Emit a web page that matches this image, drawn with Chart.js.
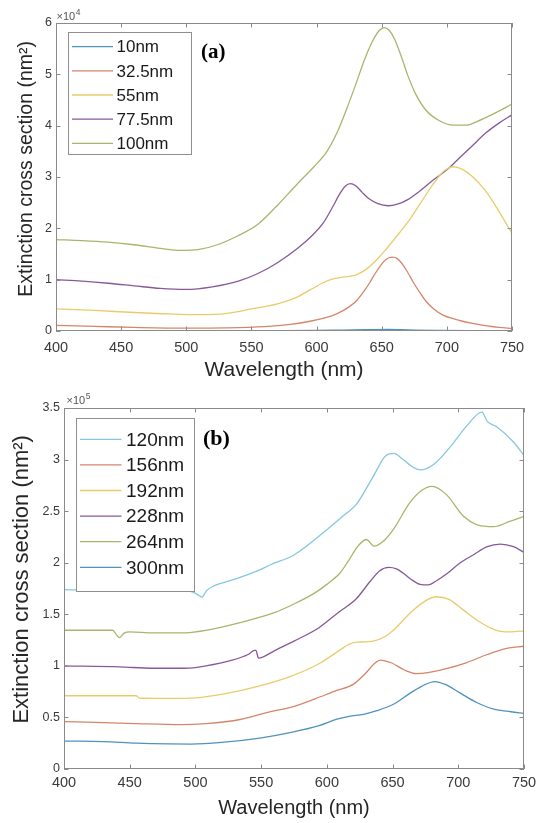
<!DOCTYPE html>
<html>
<head>
<meta charset="utf-8">
<script src="https://cdn.jsdelivr.net/npm/chart.js@4.4.1/dist/chart.umd.min.js"></script>
<style>
  html, body { margin: 0; padding: 0; background: #fff; }
  #wrap { position: relative; width: 537px; height: 823px; }
  canvas { position: absolute; left: 0; }
  #chartA { top: 0; }
  #chartB { top: 385px; }
</style>
</head>
<body>
<div id="wrap">
  <canvas id="chartA" width="537" height="395"></canvas>
  <canvas id="chartB" width="537" height="438"></canvas>
</div>
<script>
// ---- panel (a): extinction cross section, units of 1e4 nm^2 ----
const wlA10 = [400, 450, 500, 550, 600, 620, 640, 655, 670, 690, 720, 750];
const extA10 = [0.005, 0.004, 0.003, 0.004, 0.01, 0.018, 0.025, 0.03, 0.022, 0.012, 0.006, 0.004];

const wlA32 = [400, 430, 460, 500, 530, 560, 580, 595, 607, 615, 625, 631, 636, 641, 645, 649, 653, 658, 662, 666, 670, 674, 679, 684, 690, 697, 705, 712, 722, 731, 740, 750];
const extA32 = [0.11, 0.09, 0.07, 0.055, 0.06, 0.085, 0.13, 0.19, 0.26, 0.33, 0.47, 0.6, 0.76, 0.95, 1.12, 1.27, 1.39, 1.44, 1.41, 1.3, 1.14, 0.96, 0.76, 0.58, 0.43, 0.31, 0.24, 0.19, 0.14, 0.1, 0.07, 0.05];

const wlA55 = [400, 430, 460, 490, 510, 530, 550, 570, 585, 595, 605, 612, 620, 630, 638, 645, 652, 660, 670, 680, 690, 698, 705, 712, 720, 730, 740, 750];
const extA55 = [0.43, 0.4, 0.36, 0.33, 0.32, 0.34, 0.43, 0.53, 0.66, 0.8, 0.94, 1.01, 1.05, 1.09, 1.2, 1.36, 1.55, 1.8, 2.12, 2.5, 2.88, 3.12, 3.2, 3.15, 3.0, 2.72, 2.33, 1.9];

const wlA77 = [400, 420, 440, 460, 480, 500, 520, 540, 555, 570, 585, 597, 605, 612, 618, 622, 626, 630, 635, 640, 647, 655, 662, 670, 680, 690, 700, 710, 720, 730, 740, 750];
const extA77 = [1.0, 0.97, 0.93, 0.88, 0.83, 0.81, 0.86, 0.97, 1.12, 1.33, 1.6, 1.87, 2.1, 2.4, 2.68, 2.82, 2.87, 2.83, 2.7, 2.58, 2.48, 2.44, 2.47, 2.56, 2.74, 2.95, 3.14, 3.38, 3.62, 3.86, 4.05, 4.21];

const wlA100 = [400, 420, 440, 460, 480, 495, 510, 525, 540, 555, 570, 585, 598, 608, 616, 623, 630, 637, 643, 648, 652, 656, 660, 665, 670, 676, 684, 694, 705, 715, 723, 735, 750];
const extA100 = [1.78, 1.76, 1.73, 1.68, 1.61, 1.57, 1.59, 1.69, 1.86, 2.08, 2.45, 2.86, 3.2, 3.5, 3.88, 4.32, 4.8, 5.3, 5.65, 5.85, 5.91, 5.85, 5.68, 5.35, 4.98, 4.62, 4.3, 4.1, 4.01, 4.01, 4.08, 4.22, 4.42];

// ---- panel (b): extinction cross section, units of 1e5 nm^2 ----
const wlB120 = [400, 430, 455, 480, 497, 520, 549, 573, 594, 607, 617, 628, 638, 651, 664, 675, 682, 690, 701, 714, 727, 740, 750];
const extB120 = [0.271, 0.265, 0.25, 0.243, 0.242, 0.258, 0.3, 0.355, 0.42, 0.48, 0.51, 0.53, 0.565, 0.63, 0.74, 0.82, 0.848, 0.82, 0.74, 0.645, 0.58, 0.555, 0.54];

const wlB156 = [400, 430, 455, 489, 508, 534, 555, 573, 591, 607, 620, 630, 636, 641, 645, 649, 659, 668, 677, 690, 706, 722, 737, 750];
const extB156 = [0.46, 0.45, 0.44, 0.43, 0.44, 0.48, 0.55, 0.6, 0.68, 0.76, 0.82, 0.935, 1.02, 1.055, 1.045, 1.03, 0.96, 0.925, 0.935, 0.97, 1.03, 1.11, 1.17, 1.19];

const wlB192 = [400, 455, 457, 460, 481, 500, 521, 549, 573, 594, 609, 617, 623, 630, 638, 645, 651, 664, 675, 683, 693, 703, 717, 729, 740, 750];
const extB192 = [0.71, 0.71, 0.69, 0.686, 0.684, 0.69, 0.726, 0.806, 0.9, 1.02, 1.145, 1.21, 1.23, 1.232, 1.25, 1.29, 1.35, 1.52, 1.63, 1.67, 1.645, 1.55, 1.42, 1.345, 1.33, 1.34];

const wlB228 = [400, 442, 468, 492, 508, 528, 540, 545, 546, 548, 552, 560, 575, 594, 609, 622, 633, 640, 647, 653, 658, 664, 671, 677, 684, 692, 701, 712, 722, 732, 742, 750];
const extB228 = [1.0, 0.99, 0.977, 0.977, 1.0, 1.055, 1.11, 1.15, 1.15, 1.075, 1.09, 1.145, 1.24, 1.37, 1.52, 1.645, 1.82, 1.92, 1.955, 1.94, 1.9, 1.84, 1.79, 1.785, 1.83, 1.9, 1.995, 2.08, 2.155, 2.18, 2.155, 2.1];

const wlB264 = [400, 437, 440, 442, 446, 450, 468, 489, 508, 534, 560, 575, 590, 600, 610, 617, 623, 630, 636, 644, 651, 663, 672, 680, 691, 704, 714, 727, 739, 750];
const extB264 = [1.345, 1.345, 1.3, 1.274, 1.32, 1.33, 1.32, 1.32, 1.345, 1.42, 1.516, 1.6, 1.7, 1.79, 1.9, 2.03, 2.15, 2.225, 2.16, 2.22, 2.33, 2.58, 2.7, 2.74, 2.66, 2.45, 2.37, 2.35, 2.4, 2.45];

const wlB300 = [400, 450, 493, 499, 503, 505, 507, 509, 514, 530, 549, 557, 575, 600, 612, 623, 635, 645, 651, 658, 665, 671, 681, 694, 706, 718, 722, 729, 742, 750];
const extB300 = [1.74, 1.73, 1.73, 1.71, 1.68, 1.665, 1.7, 1.735, 1.775, 1.84, 1.93, 1.98, 2.075, 2.32, 2.45, 2.576, 2.83, 3.04, 3.06, 3.0, 2.93, 2.9, 2.95, 3.125, 3.32, 3.46, 3.37, 3.32, 3.17, 3.04];

const xTicks = [400, 450, 500, 550, 600, 650, 700, 750];

// washed-out matlab default colours
const colors = {
  blue: '#4f93bd',
  orange: '#d4866a',
  yellow: '#e9cb6c',
  purple: '#87599a',
  green: '#a9b56c',
  cyan: '#86c7df',
};

const sansFont = "'Liberation Sans', Arial, Helvetica, sans-serif";
const serifFont = "'Liberation Serif', 'Times New Roman', serif";

function pts(wl, ext) {
  return wl.map((w, i) => ({ x: w, y: ext[i] }));
}

function line(label, wl, ext, color) {
  return {
    label,
    data: pts(wl, ext),
    borderColor: color,
    backgroundColor: color,
    borderWidth: 1.3,
    pointRadius: 0,
    cubicInterpolationMode: 'monotone',
    fill: false,
  };
}

// box, inward ticks, in-axes legend and labels, matlab style
const matlabFrame = {
  id: 'matlabFrame',
  afterDatasetsDraw(chart, args, o) {
    const { ctx, chartArea: a, scales: { x, y } } = chart;
    ctx.save();

    // legend box
    const lg = o.legend;
    ctx.fillStyle = '#fff';
    ctx.fillRect(lg.x1, lg.y1, lg.x2 - lg.x1, lg.y2 - lg.y1);
    ctx.strokeStyle = '#8f8f8f';
    ctx.lineWidth = 1;
    ctx.strokeRect(lg.x1 + 0.5, lg.y1 + 0.5, lg.x2 - lg.x1, lg.y2 - lg.y1);
    ctx.font = lg.fontSize + 'px ' + sansFont;
    ctx.textBaseline = 'middle';
    ctx.textAlign = 'left';
    chart.data.datasets.forEach((ds, i) => {
      const ry = lg.row0 + i * lg.rowStep;
      ctx.strokeStyle = ds.borderColor;
      ctx.lineWidth = 1.3;
      ctx.beginPath();
      ctx.moveTo(lg.lineX1, ry);
      ctx.lineTo(lg.lineX2, ry);
      ctx.stroke();
      ctx.fillStyle = '#1a1a1a';
      ctx.fillText(ds.label, lg.textX, ry + 1);
    });

    // frame
    ctx.strokeStyle = '#8a8a8a';
    ctx.lineWidth = 1;
    ctx.strokeRect(a.left + 0.5, a.top + 0.5, a.right - a.left - 1, a.bottom - a.top - 1);

    // inward tick marks on all four sides
    const tl = 4.5;
    ctx.beginPath();
    x.ticks.forEach(t => {
      const px = Math.round(x.getPixelForValue(t.value)) + 0.5;
      ctx.moveTo(px, a.bottom);
      ctx.lineTo(px, a.bottom - tl);
      ctx.moveTo(px, a.top);
      ctx.lineTo(px, a.top + tl);
    });
    y.ticks.forEach(t => {
      const py = Math.round(y.getPixelForValue(t.value)) + 0.5;
      ctx.moveTo(a.left, py);
      ctx.lineTo(a.left + tl, py);
      ctx.moveTo(a.right, py);
      ctx.lineTo(a.right - tl, py);
    });
    ctx.stroke();

    // panel label, e.g. (a)
    ctx.fillStyle = '#000';
    ctx.font = 'bold ' + o.tag.size + 'px ' + serifFont;
    ctx.textBaseline = 'middle';
    ctx.fillText(o.tag.text, o.tag.x, o.tag.y);

    // exponent label x10^n
    ctx.fillStyle = '#555';
    ctx.textBaseline = 'alphabetic';
    ctx.font = '11px ' + sansFont;
    ctx.fillText('\u00d710', o.exp.x, o.exp.y);
    const w = ctx.measureText('\u00d710').width;
    ctx.font = '8.5px ' + sansFont;
    ctx.fillText(o.exp.power, o.exp.x + w + 0.5, o.exp.y - 5.5);

    ctx.restore();
  }
};

function makeOptions(cfg) {
  return {
    responsive: false,
    animation: false,
    layout: { padding: cfg.padding },
    plugins: {
      legend: { display: false },
      tooltip: { enabled: false },
      matlabFrame: cfg.frame,
    },
    scales: {
      x: {
        type: 'linear',
        min: 400,
        max: 750,
        afterBuildTicks: scale => { scale.ticks = xTicks.map(v => ({ value: v })); },
        afterFit: scale => {
          scale.height = cfg.xHeight;
          // let the layout padding alone decide the plot edges
          scale.paddingLeft = 0;
          scale.paddingRight = 0;
        },
        grid: { display: false, drawTicks: false },
        border: { display: false },
        ticks: {
          color: '#3a3a3a',
          padding: cfg.xTickPad,
          maxRotation: 0,
          font: { family: sansFont, size: 14.5 },
        },
        title: {
          display: true,
          text: 'Wavelength (nm)',
          color: '#262626',
          font: { family: sansFont, size: cfg.xTitleSize },
          padding: { top: 0, bottom: cfg.xTitlePad },
        },
      },
      y: {
        type: 'linear',
        min: 0,
        max: cfg.yMax,
        afterFit: scale => { scale.width = cfg.yWidth; },
        grid: { display: false, drawTicks: false },
        border: { display: false },
        ticks: {
          stepSize: cfg.yStep,
          color: '#3a3a3a',
          padding: 4,
          font: { family: sansFont, size: 12.5 },
          callback: v => String(v),
        },
        title: {
          display: true,
          // leading no-break spaces nudge the centred label up a little
          text: '\u00a0\u00a0\u00a0Extinction cross section (nm\u00b2)',
          color: '#262626',
          font: { family: sansFont, size: cfg.yTitleSize },
          padding: { top: cfg.yTitlePad, bottom: 0 },
        },
      },
    },
  };
}

new Chart(document.getElementById('chartA'), {
  type: 'line',
  data: {
    datasets: [
      line('10nm', wlA10, extA10, colors.blue),
      line('32.5nm', wlA32, extA32, colors.orange),
      line('55nm', wlA55, extA55, colors.yellow),
      line('77.5nm', wlA77, extA77, colors.purple),
      line('100nm', wlA100, extA100, colors.green),
    ],
  },
  options: makeOptions({
    padding: { left: 0, top: 23, right: 25, bottom: 0 },
    yWidth: 56,
    xHeight: 64,
    yMax: 6,
    yStep: 1,
    xTickPad: 8,
    xTitleSize: 21,
    xTitlePad: 12,
    yTitleSize: 19.5,
    yTitlePad: 15,
    frame: {
      legend: { x1: 68, y1: 32, x2: 191, y2: 154, row0: 46.7, rowStep: 24.15, lineX1: 72, lineX2: 113, textX: 116.5, fontSize: 17 },
      tag: { text: '(a)', x: 201, y: 53, size: 21 },
      exp: { x: 56.5, y: 20, power: '4' },
    },
  }),
  plugins: [matlabFrame],
});

new Chart(document.getElementById('chartB'), {
  type: 'line',
  data: {
    datasets: [
      line('120nm', wlB300, extB300, colors.cyan),
      line('156nm', wlB156, extB156, colors.orange),
      line('192nm', wlB192, extB192, colors.yellow),
      line('228nm', wlB228, extB228, colors.purple),
      line('264nm', wlB264, extB264, colors.green),
      line('300nm', wlB120, extB120, colors.blue),
    ],
  },
  options: makeOptions({
    padding: { left: 0, top: 23, right: 13, bottom: 0 },
    yWidth: 64,
    xHeight: 54,
    yMax: 3.5,
    yStep: 0.5,
    xTickPad: 5,
    xTitleSize: 20,
    xTitlePad: 3,
    yTitleSize: 22,
    yTitlePad: 9,
    frame: {
      legend: { x1: 76, y1: 33, x2: 194, y2: 206, row0: 54.3, rowStep: 25.6, lineX1: 80, lineX2: 121.5, textX: 126, fontSize: 19 },
      tag: { text: '(b)', x: 203, y: 54.5, size: 22 },
      exp: { x: 66.5, y: 19, power: '5' },
    },
  }),
  plugins: [matlabFrame],
});
</script>
</body>
</html>
